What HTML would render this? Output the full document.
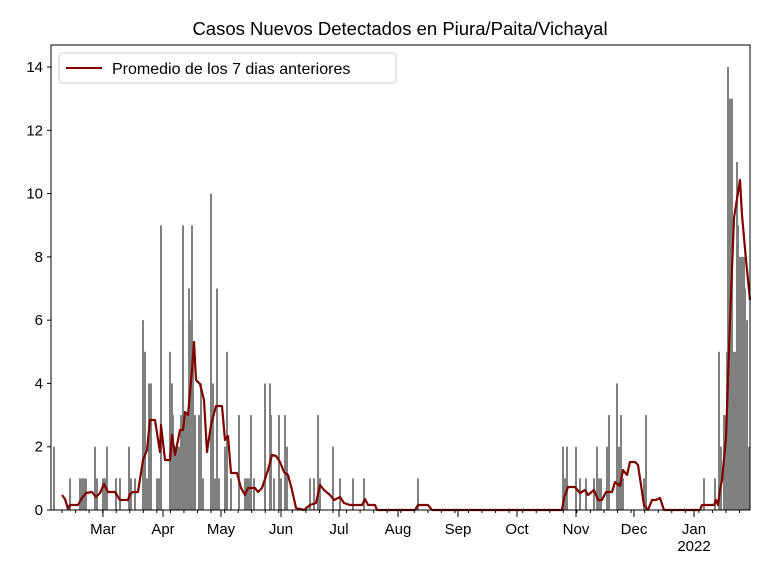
<!DOCTYPE html>
<html><head><style>body{margin:0;background:#fff}svg{display:block}</style></head><body>
<svg id="s" width="768" height="576" xmlns="http://www.w3.org/2000/svg" font-family="Liberation Sans, DejaVu Sans, sans-serif">
<rect width="768" height="576" fill="#fff"/>
<text x="400" y="35" text-anchor="middle" font-size="18.5">Casos Nuevos Detectados en Piura/Paita/Vichayal</text>
<g id="bars" fill="#808080"></g>
<polyline fill="none" stroke="#800000" stroke-width="2.2" stroke-linejoin="round" points="62,495 65,499 68,509 70,505 78,505 82,498 86,493 92,492 96,497 100,493 104,484 108,492 115,492 120,500 128,500 130,494 133,492 138,492 143,460 147,450 150,420 155,420 160,452 161,425 165,460 170,460 172,435 175,455 180,430 183,430 185,412 188,415 192,370 194,342 196,380 200,384 204,400 207,452 211,425 216,406 222,406 225,440 228,436 231,473 237,473 241,488 245,495 248,488 255,488 258,492 262,488 268,470 272,455 276,456 280,462 284,472 288,475 292,490 296,508 304,510 310,505 316,503 320,485 324,490 330,495 334,500 340,497 344,503 350,505 362,505 365,499 368,505 375,505 377,510 415,510 418,505 428,505 432,510 562,510 564,498 568,487 575,487 580,493 585,490 588,495 594,490 598,500 602,500 606,492 612,492 615,482 620,486 623,470 627,475 630,462 635,462 638,465 644,505 648,510 652,500 656,500 660,498 664,510 700,510 702,505 714,505 716,500 718,505 720,490 722,480 726,438 730,320 734,218 740,180 742,215 746,260 750,300"/>
<rect x="51" y="45" width="699" height="465" fill="none" stroke="#000" stroke-width="1"/>
<g id="ax" font-size="15" stroke="#000"></g>
<g>
<rect x="59" y="53" width="337" height="30" rx="3" fill="#fff" fill-opacity="0.8" stroke="#ccc"/>
<line x1="66" y1="68" x2="102" y2="68" stroke="#800000" stroke-width="2"/>
<text x="112" y="74" font-size="16">Promedio de los 7 dias anteriores</text>
</g>
</svg>
<script>
var Y=function(v){return 510-v*31.64};
var b=[[54,2],[70,1],[80,1],[82,1],[84,1],[86,1],[95,2],[97,1],[103,1],[105,1],[107,2],[116,1],[120,1],[129,2],[131,1],[135,1],[143,6],[145,5],[147,1],[149,4],[151,4],[157,1],[159,1],[161,9],[170,5],[172,4],[173,3],[175,2],[177,2],[179,2],[181,3],[183,9],[185,3],[187,3],[189,7],[190,6],[192,9],[193,5],[195,3],[199,3],[201,4],[203,1],[211,10],[213,4],[215,1],[217,7],[219,1],[225,2],[227,5],[231,1],[239,3],[245,1],[247,1],[249,1],[251,3],[254,1],[265,4],[270,4],[271,3],[274,1],[279,3],[281,1],[285,3],[287,2],[310,1],[314,1],[318,3],[320,1],[333,2],[340,1],[353,1],[364,1],[418,1],
[563,2],[565,1],[567,2],[576,2],[580,1],[586,1],[594,1],[597,2],[599,1],[601,1],[607,2],[609,3],[617,4],[619,2],[621,3],[623,1],[644,1],[646,3],[704,1],[715,1],[719,5],[721,2],[724,3],[726,3],[727,5],[728,14],[730,13],[732,13],[734,5],[736,5],[737,11],[738,9],[740,8],[742,8],[744,8],[745,7],[747,6],[749,2]];
var g=document.getElementById('bars'),h='';
b.forEach(function(d){h+='<rect x="'+(d[0]-1)+'" y="'+Y(d[1])+'" width="2" height="'+(d[1]*31.64)+'"/>';});
g.innerHTML=h;
var a='';
for(var v=0;v<=14;v+=2){var y=Y(v);a+='<line x1="47" y1="'+y+'" x2="51" y2="'+y+'"/><text stroke="none" x="43" y="'+(y+5)+'" text-anchor="end">'+v+'</text>';}
var m=[[103,'Mar'],[163,'Apr'],[221,'May'],[281,'Jun'],[339,'Jul'],[398,'Aug'],[458,'Sep'],[517,'Oct'],[576,'Nov'],[634,'Dec'],[694,'Jan']];
m.forEach(function(d){a+='<line x1="'+d[0]+'" y1="510" x2="'+d[0]+'" y2="517"/><text stroke="none" x="'+d[0]+'" y="534" text-anchor="middle">'+d[1]+'</text>';});
a+='<text stroke="none" x="694" y="551" text-anchor="middle">2022</text>';
for(var x=62;x<750;x+=13.55){a+='<line x1="'+x+'" y1="510" x2="'+x+'" y2="513"/>';}
document.getElementById('ax').innerHTML=a;
</script>
</body></html>
